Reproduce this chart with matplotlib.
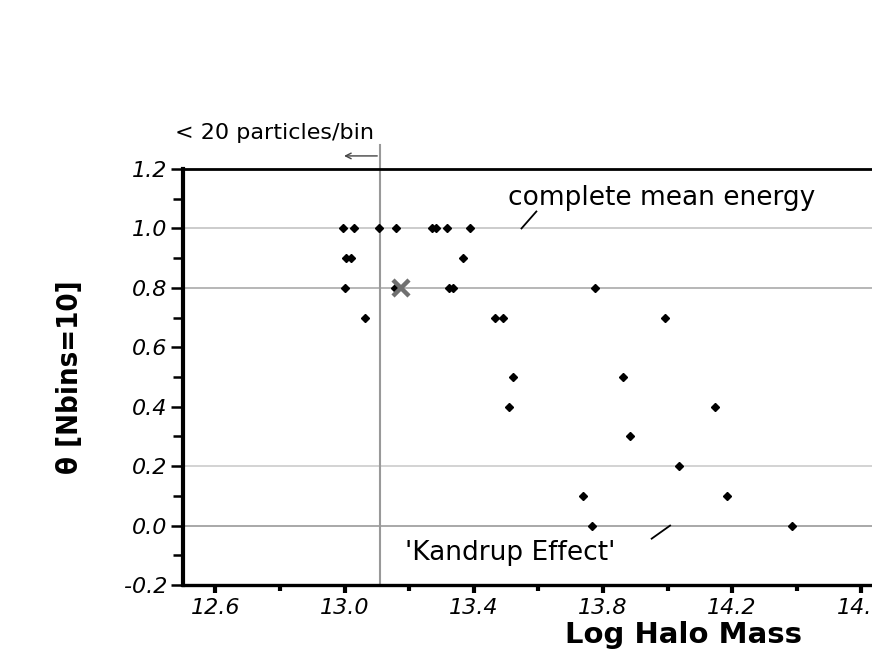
import matplotlib
matplotlib.use("Agg")
import matplotlib.pyplot as plt
import numpy as np

# halo mass (log) and theta values
log_mass = [12.995, 13.028, 13.106, 13.160, 13.270, 13.284, 13.318, 13.390,
            13.005, 13.021, 13.366,
            13.002, 13.155, 13.323, 13.335, 13.777,
            13.064, 13.467, 13.491, 13.991,
            13.523, 13.861,
            13.508, 14.148,
            13.883,
            14.037,
            13.738, 14.184,
            13.765, 14.386]
theta = [1.0, 1.0, 1.0, 1.0, 1.0, 1.0, 1.0, 1.0,
         0.9, 0.9, 0.9,
         0.8, 0.8, 0.8, 0.8, 0.8,
         0.7, 0.7, 0.7, 0.7,
         0.5, 0.5,
         0.4, 0.4,
         0.3,
         0.2,
         0.1, 0.1,
         0.0, 0.0]

cross_mass = [13.176]
cross_theta = [0.8]

limit_mass = 13.11
grid_levels = [1.0, 0.8, 0.2, 0.0]
grid_colors = ['#c4c4c4', '#aaaaaa', '#cccccc', '#9a9a9a']

x_major = [12.6, 13.0, 13.4, 13.8, 14.2, 14.6]
x_minor = [12.8, 13.2, 13.6, 14.0, 14.4, 14.8]
y_major = [-0.2, 0.0, 0.2, 0.4, 0.6, 0.8, 1.0, 1.2]
y_minor = [-0.1, 0.1, 0.3, 0.5, 0.7, 0.9, 1.1]

fig = plt.figure(figsize=(8.72, 6.54), dpi=100)
ax = fig.add_axes([183/872, 69/654, 807.5/872, 416/654])

for lev, c in zip(grid_levels, grid_colors):
    ax.axhline(lev, color=c, lw=1.2, zorder=1)

ax.plot([limit_mass, limit_mass], [-0.2, 1.28], color='#999999', lw=1.5,
        clip_on=False, zorder=1)
ax.annotate('', xy=(12.99, 1.244), xytext=(limit_mass, 1.244),
            arrowprops=dict(arrowstyle='->', color='#444444', lw=1.0),
            annotation_clip=False)

ax.plot(log_mass, theta, 'D', color='black', ms=4.5, zorder=3)
ax.plot(cross_mass, cross_theta, 'x', color='#707070', ms=11, mew=3.2, zorder=4)

ax.set_xlim(12.5, 15.0)
ax.set_ylim(-0.2, 1.2)
ax.set_xticks(x_major)
ax.set_xticks(x_minor, minor=True)
ax.set_yticks(y_major)
ax.set_yticks(y_minor, minor=True)
ax.set_xticklabels([f'{v:.1f}' for v in x_major])
ax.set_yticklabels([f'{v:.1f}' for v in y_major])

for lab in ax.get_xticklabels() + ax.get_yticklabels():
    lab.set_fontstyle('italic')
    lab.set_fontsize(16)

ax.tick_params(axis='y', which='major', length=9, width=1.8, pad=2)
ax.tick_params(axis='y', which='minor', length=7, width=1.8)
ax.tick_params(axis='x', which='major', length=6, width=3, pad=3)
ax.tick_params(axis='x', which='minor', length=4, width=3)

ax.spines['right'].set_visible(False)
ax.spines['left'].set_linewidth(3)
ax.spines['bottom'].set_linewidth(2.4)
ax.spines['top'].set_linewidth(2)

ax.set_ylabel('\u03b8 [Nbins=10]', fontsize=21, fontweight='bold',
              family=['DejaVu Sans Condensed', 'DejaVu Sans'],
              fontstretch='condensed')
ax.yaxis.set_label_coords(-0.123, 0.5)

fig.text(565/872, 19/654, 'Log Halo Mass', fontsize=21, fontweight='bold',
         ha='left', va='center')

ax.text(12.475, 1.321, '< 20 particles/bin', fontsize=16, ha='left',
        va='center', clip_on=False)

ax.text(13.506, 1.102, 'complete mean energy', fontsize=19, ha='left',
        va='center', clip_on=False)
ax.plot([13.548, 13.594], [1.0, 1.057], color='black', lw=1.3)

ax.text(13.187, -0.093, "'Kandrup Effect'", fontsize=19, ha='left', va='center')
ax.plot([13.951, 14.008], [-0.044, 0.0], color='black', lw=1.3)

fig.savefig('out.png', dpi=100)
